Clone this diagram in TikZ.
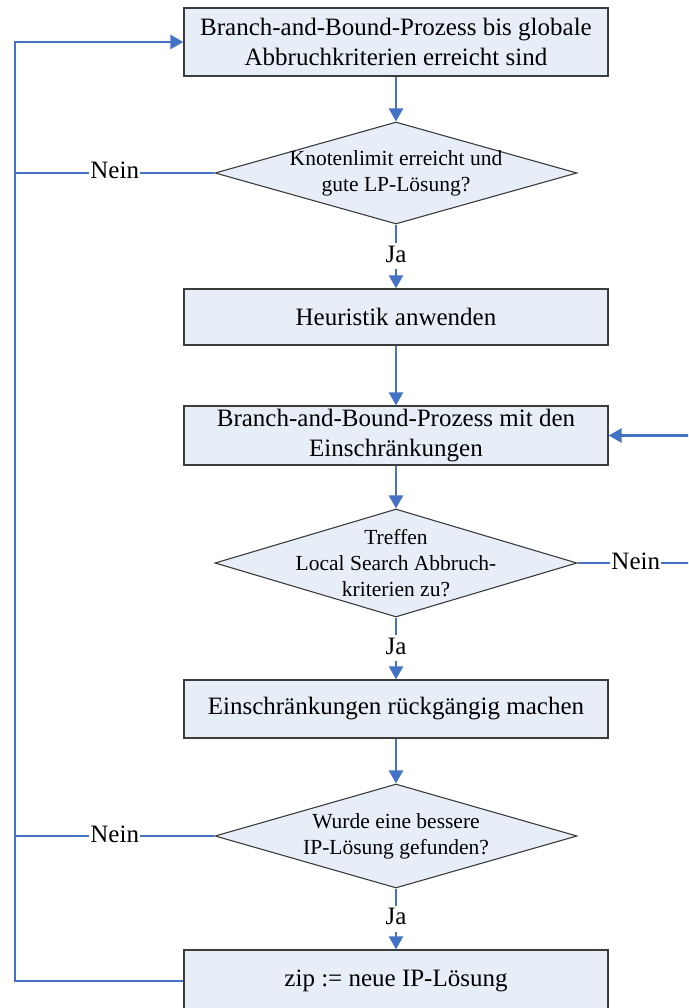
\documentclass[tikz,border=0pt]{standalone}
\usepackage{fontspec}
\setmainfont{Liberation Serif}
\usetikzlibrary{arrows.meta,shapes.geometric}
\definecolor{boxfill}{RGB}{232,238,247}
\definecolor{boxline}{RGB}{60,60,60}
\definecolor{flowblue}{RGB}{68,114,196}
\tikzset{
  stepbox/.style={draw=boxline, line width=1.3pt, fill=boxfill, minimum width=424pt,
    inner sep=0pt, align=center, font=\fontsize{25}{30}\selectfont},
  decision/.style={shape=diamond, draw=boxline, line width=1.1pt, fill=boxfill,
    minimum width=362pt, inner sep=0pt},
  dectext/.style={align=center, font=\fontsize{21.5}{26}\selectfont, inner sep=0pt},
  link/.style={draw=flowblue, line width=2.6pt},
  flow/.style={link, -{Triangle[width=14pt,length=13pt]}},
  lab/.style={fill=white, inner sep=1pt, text height=18pt, text depth=6pt,
    font=\fontsize{25}{30}\selectfont}
}
\begin{document}
\begin{tikzpicture}[x=1pt,y=-1pt]
\clip (0,0) rectangle (688,1008);
\fill[white] (0,0) rectangle (688,1008);

% process steps
\node[stepbox, minimum height=68pt] (b1) at (396,42)
  {Branch-and-Bound-Prozess bis globale\\Abbruchkriterien erreicht sind};
\node[decision, minimum height=102pt] (d1) at (396,173) {};
\node[dectext] at (d1) {Knotenlimit erreicht und\\gute LP-Lösung?};
\node[stepbox, minimum height=56pt] (b2) at (396,317) {Heuristik anwenden};
\node[stepbox, minimum height=59pt] (b3) at (396,435.5)
  {Branch-and-Bound-Prozess mit den\\Einschränkungen};
\node[decision, minimum height=108pt] (d2) at (396,563) {};
\node[dectext] at (d2) {Treffen\\Local Search Abbruch-\\kriterien zu?};
\node[stepbox, minimum height=58pt] (b4) at (396,709) {Einschränkungen rückgängig machen};
\node[decision, minimum height=104pt] (d3) at (396,836) {};
\node[dectext] at (d3) {Wurde eine bessere\\IP-Lösung gefunden?};
\node[stepbox, minimum height=62pt] (b5) at (396,981) {zip := neue IP-Lösung};

% return paths (the right one runs just past the page edge)
\coordinate (lt) at (15,42);
\coordinate (lb) at (15,981);
\coordinate (rt) at (694,435.5);

% main flow
\draw[flow] (b1) -- (d1);
\draw[flow] (d1) -- node[lab]{Ja} (b2);
\draw[flow] (b2) -- (b3);
\draw[flow] (b3) -- (d2);
\draw[flow] (d2) -- node[lab]{Ja} (b4);
\draw[flow] (b4) -- (d3);
\draw[flow] (d3) -- node[lab]{Ja} (b5);

% "Nein" branches
\draw[link] (d1.west) -- node[lab]{Nein} (d1.west -| lt);
\draw[link] (d3.west) -- node[lab]{Nein} (d3.west -| lt);
\draw[flow] (b5.west) -- (lb) -- (lt) -- (b1.west);
\draw[flow] (d2.east) -- node[lab, pos=0.5]{Nein} (d2.east -| rt) -- (rt) -- (b3.east);
\end{tikzpicture}
\end{document}
